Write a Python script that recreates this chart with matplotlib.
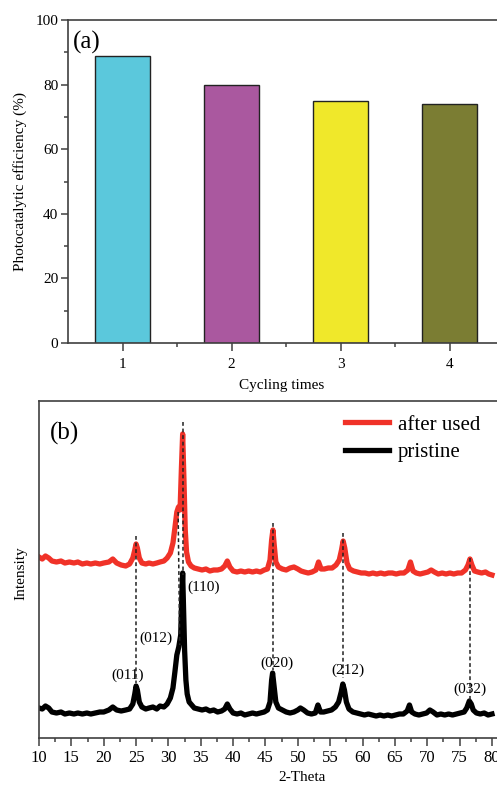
import numpy as np
import matplotlib
matplotlib.use('Agg')
import matplotlib.pyplot as plt

plt.rcParams['font.family'] = ['Liberation Serif', 'DejaVu Serif']
plt.rcParams['mathtext.fontset'] = 'stix'

# panel (a) data
cycles = [1, 2, 3, 4]
efficiency = [89, 80, 75, 74]
bar_colors = ['#5bc8dc', '#aa589f', '#f0e82a', '#7b7d33']

# panel (b) data (arbitrary intensity units)
after_theta = [10.0, 10.5, 11.0, 11.5, 12.0, 12.7, 13.4, 14.0, 14.7, 15.4, 16.0, 16.7, 17.4, 18.0,
               18.7, 19.4, 20.0, 20.8, 21.4, 22.0, 22.7, 23.4, 24.0, 24.5, 24.8, 25.0, 25.2, 25.5,
               25.9, 26.5, 27.0, 27.6, 28.2, 28.7, 29.3, 29.8, 30.3, 30.7, 31.0, 31.3, 31.55, 31.8,
               32.0, 32.2, 32.4, 32.6, 32.8, 33.1, 33.5, 34.0, 34.6, 35.2, 35.8, 36.4, 37.0, 37.6,
               38.2, 38.7, 39.1, 39.5, 40.0, 40.6, 41.2, 41.8, 42.4, 43.0, 43.6, 44.2, 44.8, 45.3,
               45.7, 45.95, 46.15, 46.35, 46.6, 47.0, 47.6, 48.2, 48.8, 49.4, 50.0, 50.5, 51.0, 51.6,
               52.2, 52.8, 53.2, 53.6, 54.1, 54.7, 55.3, 55.9, 56.4, 56.75, 57.0, 57.25, 57.6, 58.0,
               58.6, 59.2, 59.8, 60.4, 61.0, 61.6, 62.2, 62.8, 63.4, 64.0, 64.6, 65.2, 65.8, 66.4,
               67.0, 67.4, 67.8, 68.3, 68.9, 69.5, 70.1, 70.6, 71.1, 71.7, 72.3, 72.9, 73.5, 74.1,
               74.7, 75.3, 75.9, 76.3, 76.6, 76.9, 77.3, 77.8, 78.4, 79.0, 79.5, 80.0]
after_int = [181, 179, 182, 180, 177, 176, 177, 175, 176, 175, 176, 174, 175, 174,
             175, 174, 175, 176, 179, 175, 173, 172, 174, 180, 188, 194, 190, 180,
             175, 174, 175, 174, 175, 176, 177, 180, 185, 195, 210, 226, 231, 228,
             268, 304, 258, 208, 186, 176, 172, 170, 169, 168, 169, 167, 168, 168,
             169, 172, 177, 171, 167, 166, 167, 166, 167, 166, 167, 166, 168, 169,
             178, 198, 208, 193, 176, 171, 169, 168, 170, 171, 169, 167, 166, 165,
             166, 168, 176, 169, 169, 170, 170, 173, 178, 188, 197, 190, 175, 169,
             167, 166, 165, 165, 164, 165, 164, 165, 164, 165, 165, 164, 165, 165,
             168, 176, 167, 165, 164, 165, 166, 168, 166, 164, 165, 164, 165, 164,
             165, 165, 168, 173, 179, 173, 167, 166, 165, 166, 164, 163]

pristine_theta = [10.0, 10.5, 11.0, 11.5, 12.0, 12.7, 13.4, 14.0, 14.7, 15.4, 16.0, 16.7, 17.4, 18.0,
                  18.7, 19.4, 20.0, 20.8, 21.4, 22.0, 22.7, 23.4, 24.0, 24.5, 24.8, 25.0, 25.2, 25.5,
                  25.9, 26.5, 27.0, 27.6, 28.2, 28.7, 29.3, 29.8, 30.3, 30.7, 31.0, 31.3, 31.6, 31.9,
                  32.05, 32.2, 32.35, 32.5, 32.7, 32.9, 33.2, 33.6, 34.0, 34.6, 35.2, 35.8, 36.4, 37.0,
                  37.6, 38.2, 38.7, 39.1, 39.5, 40.0, 40.6, 41.2, 41.8, 42.4, 43.0, 43.6, 44.2, 44.8,
                  45.3, 45.7, 45.95, 46.1, 46.3, 46.6, 47.0, 47.6, 48.2, 48.8, 49.4, 50.0, 50.4, 50.9,
                  51.5, 52.1, 52.7, 53.1, 53.5, 54.0, 54.6, 55.2, 55.8, 56.3, 56.7, 56.95, 57.2, 57.5,
                  57.9, 58.5, 59.1, 59.7, 60.3, 60.9, 61.5, 62.1, 62.7, 63.3, 63.9, 64.5, 65.1, 65.7,
                  66.3, 66.9, 67.25, 67.6, 68.1, 68.7, 69.3, 69.9, 70.4, 70.9, 71.5, 72.1, 72.7, 73.3,
                  73.9, 74.5, 75.1, 75.7, 76.1, 76.5, 76.8, 77.1, 77.6, 78.2, 78.8, 79.4, 80.0]
pristine_int = [30, 29, 32, 30, 26, 25, 26, 24, 25, 24, 25, 24, 25, 24,
                25, 26, 26, 28, 31, 28, 27, 28, 29, 34, 44, 52, 48, 36,
                31, 29, 30, 31, 29, 32, 31, 34, 40, 50, 66, 83, 91, 103,
                138, 165, 128, 88, 58, 44, 36, 33, 30, 29, 28, 29, 27, 28,
                26, 27, 29, 34, 29, 25, 24, 25, 23, 24, 25, 24, 25, 26,
                28, 36, 58, 65, 53, 36, 30, 28, 26, 25, 26, 28, 30, 28,
                25, 24, 25, 33, 26, 26, 27, 28, 31, 36, 46, 54, 48, 36,
                29, 26, 25, 24, 23, 24, 23, 22, 23, 22, 23, 22, 23, 24,
                24, 27, 33, 26, 24, 23, 24, 25, 28, 26, 23, 24, 23, 24,
                23, 24, 25, 26, 30, 37, 34, 28, 25, 24, 25, 23, 24]

# reference lines: (x_top, y_top, x_bottom, y_bottom)
ref_lines = [(25.0, 202, 25.0, 55), (31.5, 226, 31.75, 93), (32.18, 316, 32.18, 163),
             (46.2, 215, 46.2, 68), (57.03, 205, 57.03, 60), (76.6, 180, 76.6, 38)]
peak_labels = ['(011)', '(012)', '(110)', '(020)', '(212)', '(032)']
peak_label_x = [23.7, 28.1, 35.5, 46.8, 57.8, 76.6]
peak_label_y = [63, 100, 151, 75, 68, 49]

spine_c = '#404040'

fig = plt.figure(figsize=(4.97, 7.85), dpi=100)

# ---------------- panel (a)
ax1 = fig.add_axes([68/497, 1-343/785, 436/497, 323/785])
ax1.bar(cycles, efficiency, width=0.5, color=bar_colors, edgecolor='#222222', linewidth=1.0)
ax1.set_xlim(0.5, 4.5)
ax1.set_ylim(0, 100)
ax1.set_xticks(cycles)
ax1.set_xticks([1.5, 2.5, 3.5], minor=True)
ax1.set_yticks([0, 20, 40, 60, 80, 100])
ax1.set_yticks([10, 30, 50, 70, 90], minor=True)
ax1.tick_params(axis='x', which='major', length=6, width=1.1, pad=5, labelsize=11, color=spine_c)
ax1.tick_params(axis='x', which='minor', length=3, width=1.1, color=spine_c)
ax1.tick_params(axis='y', which='major', length=5, width=1.1, pad=2, labelsize=11, color=spine_c)
ax1.tick_params(axis='y', which='minor', length=3, width=1.1, color=spine_c)
for s in ax1.spines.values():
    s.set_color(spine_c)
    s.set_linewidth(1.2)
ax1.set_xlabel('Cycling times', fontsize=11)
ax1.set_ylabel('Photocatalytic efficiency (%)', fontsize=11)
ax1.xaxis.set_label_coords(0.49, -0.113)
ax1.yaxis.set_label_coords(-0.094, 0.5)
ax1.text(0.012, 0.93, '(a)', transform=ax1.transAxes, fontsize=18, ha='left', va='center')

# ---------------- panel (b)
ax2 = fig.add_axes([39/497, 1-738/785, 71*6.471/497, 337/785])
ax2.plot(after_theta, after_int, color='#f03228', linewidth=3.8, solid_joinstyle='round', label='after used')
ax2.plot(pristine_theta, pristine_int, color='black', linewidth=3.8, solid_joinstyle='round', label='pristine')
for x0, y0, x1, y1 in ref_lines:
    ax2.plot([x0, x1], [y0, y1], color='#222222', linewidth=1.1, dashes=(2.5, 1.8))
for lab, lx, ly in zip(peak_labels, peak_label_x, peak_label_y):
    ax2.text(lx, ly, lab, fontsize=11, ha='center', va='center')
ax2.set_xlim(10, 81)
ax2.set_ylim(0, 337)
ax2.set_xticks(np.arange(10, 81, 5))
ax2.set_xticks(np.arange(12.5, 80, 5), minor=True)
ax2.set_yticks([])
ax2.tick_params(axis='x', which='major', length=6, width=1.1, pad=3, labelsize=12, color=spine_c)
ax2.tick_params(axis='x', which='minor', length=3, width=1.1, color=spine_c)
for s in ax2.spines.values():
    s.set_color(spine_c)
    s.set_linewidth(1.2)
ax2.set_xlabel('2-Theta', fontsize=11)
ax2.set_ylabel('Intensity', fontsize=11)
ax2.xaxis.set_label_coords(0.572, -0.099)
ax2.yaxis.set_label_coords(-0.026, 0.49)
ax2.text(0.024, 0.905, '(b)', transform=ax2.transAxes, fontsize=18, ha='left', va='center')
leg = ax2.legend(loc='upper left', bbox_to_anchor=(345/497, 1-415/785), bbox_transform=fig.transFigure,
                 frameon=False, fontsize=15, handlelength=2.1, handletextpad=0.45,
                 labelspacing=0.4, borderpad=0, borderaxespad=0)

fig.savefig('out.png', dpi=100)
